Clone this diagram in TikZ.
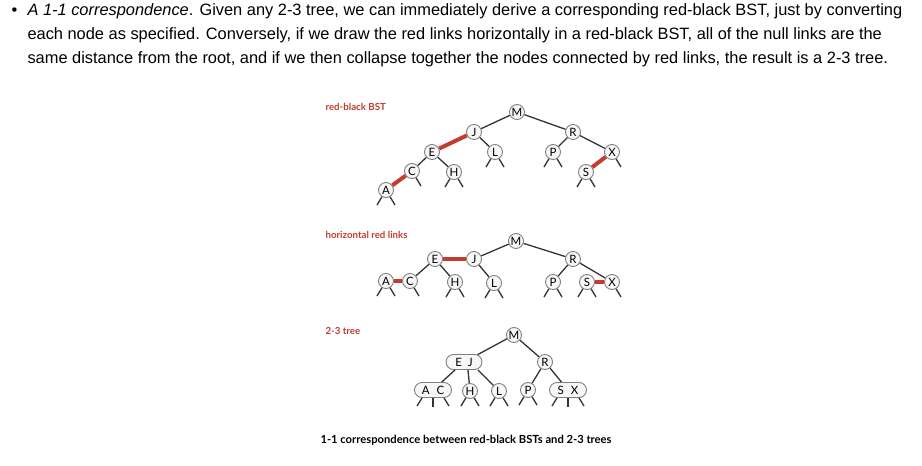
\documentclass[tikz,border=0pt]{standalone}
\usepackage{fontspec}
\setmainfont{Liberation Sans}
\newfontfamily\figfont{Lato}
\usepackage{tikz}
\usetikzlibrary{shapes.misc}
\usepackage{xcolor}
\definecolor{linkred}{RGB}{196,60,48}
\tikzset{%
	key/.style={
		circle,
		draw=black!50,
		fill=black!3,
		line width=0.9pt,
		minimum size=15pt,
		inner sep=0pt,
		font=\figfont\fontsize{11.5}{11.5}\selectfont
	},
	threekey/.style={
		rounded rectangle,
		draw=black!50,
		fill=black!3,
		line width=0.9pt,
		minimum height=15pt,
		minimum width=37pt,
		inner sep=0pt,
		font=\figfont\fontsize{11.5}{11.5}\selectfont
	},
	link/.style={draw=black!80, line width=1.3pt},
	redlink/.style={draw=linkred, line width=4pt},
	treetitle/.style={anchor=west, text=linkred, font=\figfont\bfseries\fontsize{9.7}{10}\selectfont},
	bodytext/.style={anchor=base west, font=\fontsize{16.4}{16.4}\selectfont},
}
\newcommand{\nullleft}[1]{\draw[link] (#1) -- +(-9,15);}
\newcommand{\nullright}[1]{\draw[link] (#1) -- +(9,15);}
\newcommand{\nullboth}[1]{\nullleft{#1}\nullright{#1}}
\newcommand{\nullthree}[1]{%
	\draw[link] ([xshift=-11pt]#1.south) -- +(-5,8);
	\draw[link] (#1.south) -- +(0,9);
	\draw[link] ([xshift=11pt]#1.south) -- +(5,8);}

\begin{document}
\begin{tikzpicture}[x=1pt, y=-1pt]
			\useasboundingbox (0,0) rectangle (922,466);
			
			% Paragraph above the figure
			\node[bodytext] (bullet) at (8,15.5) {•};
			\node[bodytext] (line1) at (24,15.5) {\textit{A 1-1 correspondence}. Given any 2-3 tree, we can immediately derive a corresponding red-black BST, just by converting};
			\node[bodytext] (line2) at (24,39.3) {each node as specified. Conversely, if we draw the red links horizontally in a red-black BST, all of the null links are the};
			\node[bodytext] (line3) at (24,63) {same distance from the root, and if we then collapse together the nodes connected by red links, the result is a 2-3 tree.};
			
			% Red-black BST
			\node[treetitle] (title1) at (322,107) {red-black BST};
			\node[key] (m1) at (517,112) {M};
			\node[key] (j1) at (474,132) {J};
			\node[key] (r1) at (573,132) {R};
			\node[key] (e1) at (432,152) {E};
			\node[key] (l1) at (495,152) {L};
			\node[key] (p1) at (553,152) {P};
			\node[key] (x1) at (612,152) {X};
			\node[key] (c1) at (412,171) {C};
			\node[key] (h1) at (454,172) {H};
			\node[key] (s1) at (586,172) {S};
			\node[key] (a1) at (386,190) {A};
			
			\draw[link] (m1) -- (j1);
			\draw[link] (m1) -- (r1);
			\draw[link] (j1) -- (l1);
			\draw[link] (e1) -- (c1);
			\draw[link] (e1) -- (h1);
			\draw[link] (r1) -- (p1);
			\draw[link] (r1) -- (x1);
			\draw[redlink] (j1) -- (e1);
			\draw[redlink] (c1) -- (a1);
			\draw[redlink] (x1) -- (s1);
			
			\nullboth{a1} \nullright{c1} \nullboth{h1} \nullboth{l1}
			\nullboth{p1} \nullboth{s1} \nullright{x1}
			
			% Horizontal red links
			\node[treetitle] (title2) at (322,235) {horizontal red links};
			\node[key] (m2) at (516,241) {M};
			\node[key] (e2) at (435,259) {E};
			\node[key] (j2) at (474,259) {J};
			\node[key] (r2) at (573,259) {R};
			\node[key] (a2) at (386,281) {A};
			\node[key] (c2) at (410,281) {C};
			\node[key] (h2) at (455,282) {H};
			\node[key] (l2) at (494,283) {L};
			\node[key] (p2) at (553,282) {P};
			\node[key] (s2) at (587,282) {S};
			\node[key] (x2) at (612,282) {X};
			
			\draw[link] (m2) -- (j2);
			\draw[link] (m2) -- (r2);
			\draw[link] (j2) -- (l2);
			\draw[link] (e2) -- (c2);
			\draw[link] (e2) -- (h2);
			\draw[link] (r2) -- (p2);
			\draw[link] (r2) -- (x2);
			\draw[redlink] (e2) -- (j2);
			\draw[redlink] (a2) -- (c2);
			\draw[redlink] (s2) -- (x2);
			
			\nullboth{a2} \nullright{c2} \nullboth{h2} \nullboth{l2}
			\nullboth{p2} \nullboth{s2} \nullright{x2}
			
			% 2-3 tree
			\node[treetitle] (title3) at (322,331) {2-3 tree};
			\node[key] (m3) at (514,335) {M};
			\node[threekey, minimum width=36pt] (ej3) at (464,362) {E\hspace{6pt}J};
			\node[key] (r3) at (545,362) {R};
			\node[threekey] (ac3) at (433,390) {A\hspace{7pt}C};
			\node[key] (h3) at (470,391) {H};
			\node[key] (l3) at (499,391) {L};
			\node[key] (p3) at (528,390) {P};
			\node[threekey] (sx3) at (568,390) {S\hspace{7pt}X};
			
			\draw[link] (m3) -- (ej3);
			\draw[link] (m3) -- (r3);
			\draw[link] ([xshift=-9pt]ej3.south) -- (ac3);
			\draw[link] ([xshift=4pt]ej3.south) -- (h3);
			\draw[link] ([xshift=14pt]ej3.south) -- (l3);
			\draw[link] (r3) -- (p3);
			\draw[link] (r3) -- (sx3);
			
			\nullthree{ac3} \nullboth{h3} \nullboth{l3} \nullboth{p3} \nullthree{sx3}
			
			% Caption
			\node[anchor=west, font=\figfont\bfseries\fontsize{11.2}{12}\selectfont] (caption) at (317,440) {1-1 correspondence between red-black BSTs and 2-3 trees};
		\end{tikzpicture}
\end{document}
